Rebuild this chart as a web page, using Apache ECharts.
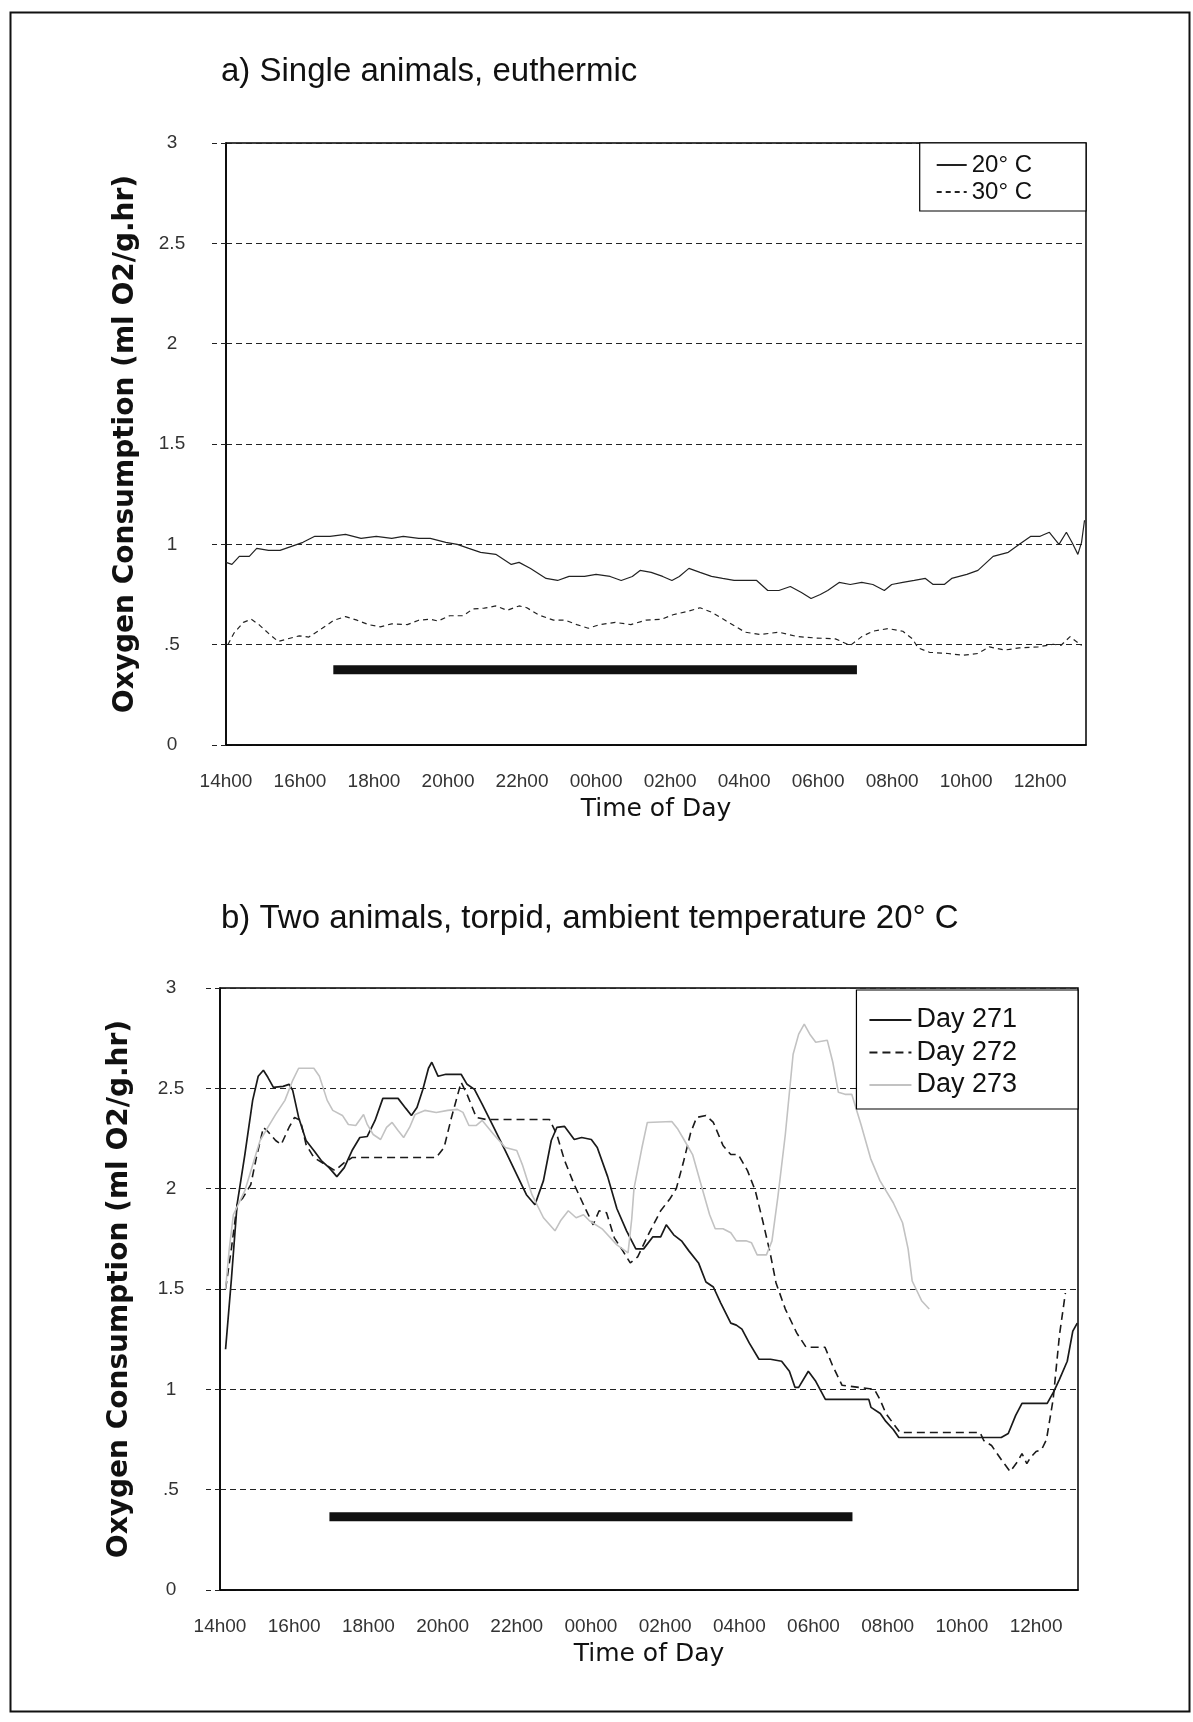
<!DOCTYPE html>
<html><head><meta charset="utf-8">
<script src="https://cdn.jsdelivr.net/npm/echarts@6/dist/echarts.min.js"></script>
<style>html,body{margin:0;padding:0;background:#fff}#c{width:1193px;height:1722px}</style>
</head><body><div id="c"></div>
<script>
// ---- tick labels ----
const xTickLabels = ['14h00','16h00','18h00','20h00','22h00','00h00','02h00','04h00','06h00','08h00','10h00','12h00'];
const yTickLabels = ['0','.5','1','1.5','2','2.5','3'];

// ---- panel a: hours after 14h00, oxygen consumption ----
const a20Time = [0,0.16,0.36,0.63,0.83,1.15,1.46,1.77,2.08,2.4,2.81,3.23,3.65,4.06,4.48,4.79,5.21,5.52,5.94,6.25,6.56,6.88,7.29,7.71,7.92,8.23,8.65,8.96,9.27,9.69,10.0,10.38,10.68,10.98,11.19,11.49,11.8,12.05,12.25,12.51,12.81,13.12,13.42,13.73,14.03,14.34,14.64,14.94,15.25,15.55,15.81,16.06,16.26,16.57,16.87,17.18,17.48,17.79,17.99,18.29,18.6,18.9,19.11,19.41,19.61,20.02,20.32,20.73,21.14,21.44,21.75,22.0,22.25,22.51,22.71,22.86,23.02,23.12,23.2];
const a20Val = [.91,.90,.94,.94,.98,.97,.97,.99,1.01,1.04,1.04,1.05,1.03,1.04,1.03,1.04,1.03,1.03,1.01,1.0,.98,.96,.95,.90,.91,.88,.83,.82,.84,.84,.85,.84,.82,.84,.87,.86,.84,.82,.84,.88,.86,.84,.83,.82,.82,.82,.77,.77,.79,.76,.73,.75,.77,.81,.80,.81,.80,.77,.80,.81,.82,.83,.80,.80,.83,.85,.87,.94,.96,1.0,1.04,1.04,1.06,1.0,1.06,1.01,.95,1.01,1.12];
const a30Time = [0.05,0.21,0.47,0.68,0.89,1.15,1.41,1.67,1.98,2.24,2.6,2.92,3.23,3.54,3.85,4.17,4.48,4.9,5.21,5.52,5.73,6.04,6.41,6.67,6.98,7.29,7.6,7.92,8.13,8.44,8.85,9.17,9.48,9.79,10.1,10.52,10.94,11.35,11.77,12.08,12.5,12.81,13.12,13.52,14.03,14.44,14.94,15.45,15.96,16.47,16.87,17.18,17.48,17.89,18.29,18.55,18.7,19.01,19.51,19.92,20.32,20.63,21.04,21.44,21.95,22.36,22.56,22.81,22.96,23.12];
const a30Val = [.50,.556,.611,.627,.60,.556,.516,.529,.544,.538,.582,.622,.64,.622,.60,.589,.604,.60,.622,.627,.618,.644,.644,.678,.682,.693,.671,.693,.684,.649,.622,.622,.60,.582,.60,.611,.60,.622,.627,.649,.667,.684,.662,.618,.562,.551,.562,.54,.533,.529,.496,.54,.567,.58,.567,.529,.484,.462,.456,.447,.456,.489,.473,.484,.489,.502,.496,.54,.518,.496];
const aNightTime = [2.9, 17.05];
const aNightVal = [0.375, 0.375];

// ---- panel b ----
const b271Time = [0.15,0.31,0.46,0.67,0.88,1.03,1.17,1.29,1.44,1.70,1.86,1.96,2.12,2.32,2.53,2.73,2.94,3.15,3.35,3.56,3.77,3.97,4.18,4.39,4.59,4.80,5.01,5.16,5.31,5.47,5.62,5.71,5.88,6.09,6.50,6.66,6.86,7.07,7.38,7.69,8.0,8.26,8.49,8.72,8.93,9.08,9.29,9.55,9.75,10.01,10.17,10.45,10.7,10.96,11.21,11.42,11.67,11.88,12.03,12.23,12.44,12.64,12.9,13.1,13.3,13.5,13.77,13.92,14.07,14.27,14.53,14.84,15.14,15.35,15.5,15.6,15.86,16.06,16.32,17.39,17.49,17.55,17.8,17.95,18.15,18.3,21.06,21.25,21.45,21.62,22.3,22.48,22.63,22.84,22.99,23.11];
const b271Val = [1.2,1.555,1.92,2.17,2.44,2.56,2.59,2.555,2.505,2.51,2.52,2.49,2.355,2.24,2.19,2.14,2.105,2.06,2.105,2.19,2.255,2.26,2.34,2.45,2.45,2.45,2.40,2.365,2.405,2.495,2.60,2.63,2.56,2.57,2.57,2.52,2.495,2.42,2.305,2.19,2.07,1.97,1.92,2.04,2.24,2.305,2.31,2.245,2.255,2.245,2.205,2.06,1.90,1.79,1.70,1.70,1.76,1.76,1.82,1.77,1.74,1.69,1.63,1.535,1.51,1.43,1.33,1.32,1.30,1.23,1.15,1.15,1.14,1.09,1.01,1.01,1.09,1.04,0.95,0.95,0.95,0.91,0.88,0.84,0.80,0.76,0.76,0.78,0.87,0.93,0.93,0.99,1.05,1.14,1.29,1.33];
const b272Time = [0.15,0.31,0.46,0.62,0.83,0.98,1.17,1.29,1.5,1.65,1.86,2.01,2.17,2.32,2.53,2.84,3.1,3.35,3.56,5.83,6.04,6.24,6.5,6.66,6.91,7.17,8.88,9.08,9.29,9.55,9.8,10.06,10.22,10.42,10.63,10.86,11.06,11.26,11.57,11.88,12.13,12.3,12.49,12.69,12.85,13.1,13.3,13.56,13.77,13.97,14.22,14.43,14.63,14.83,14.99,15.24,15.55,15.8,16.31,16.51,16.77,17.64,17.79,17.95,18.15,18.33,20.49,20.59,20.8,21.06,21.3,21.5,21.62,21.75,21.85,22.0,22.15,22.28,22.46,22.63,22.79];
const b272Val = [1.50,1.705,1.92,1.955,2.02,2.155,2.305,2.285,2.24,2.22,2.305,2.355,2.34,2.22,2.155,2.12,2.09,2.13,2.155,2.155,2.205,2.355,2.53,2.47,2.355,2.345,2.345,2.27,2.14,2.02,1.92,1.82,1.89,1.88,1.755,1.69,1.63,1.66,1.78,1.89,1.95,2.0,2.13,2.28,2.355,2.365,2.33,2.215,2.17,2.17,2.09,1.99,1.84,1.68,1.53,1.40,1.28,1.21,1.21,1.12,1.02,1.0,0.95,0.88,0.83,0.785,0.785,0.745,0.72,0.65,0.59,0.64,0.68,0.63,0.66,0.69,0.70,0.75,0.95,1.27,1.48];
const b273Time = [0.15,0.25,0.36,0.67,1.08,1.29,1.5,1.75,1.96,2.12,2.53,2.68,2.89,3.04,3.3,3.46,3.66,3.87,3.97,4.13,4.33,4.49,4.64,4.8,4.95,5.11,5.26,5.52,5.83,6.14,6.4,6.55,6.71,6.91,7.07,7.38,7.69,8.0,8.15,8.41,8.72,9.03,9.18,9.39,9.6,9.8,9.96,10.3,10.7,11.0,11.1,11.16,11.37,11.52,12.18,12.33,12.49,12.74,13.0,13.2,13.35,13.56,13.77,13.92,14.18,14.33,14.48,14.73,14.88,15.04,15.24,15.45,15.6,15.75,15.9,16.06,16.37,16.52,16.67,16.85,17.03,17.28,17.54,17.79,18.15,18.4,18.55,18.66,18.92,19.12];
const b273Val = [1.50,1.70,1.87,1.99,2.24,2.305,2.37,2.44,2.54,2.60,2.60,2.56,2.44,2.39,2.365,2.32,2.315,2.37,2.32,2.27,2.245,2.305,2.33,2.29,2.255,2.305,2.37,2.39,2.38,2.39,2.395,2.38,2.315,2.315,2.34,2.27,2.205,2.19,2.12,1.97,1.855,1.79,1.84,1.89,1.855,1.87,1.84,1.80,1.72,1.68,1.85,2.0,2.2,2.33,2.335,2.3,2.25,2.17,2.0,1.87,1.80,1.80,1.78,1.74,1.74,1.73,1.67,1.67,1.74,1.96,2.27,2.67,2.77,2.82,2.77,2.73,2.74,2.63,2.48,2.47,2.47,2.32,2.15,2.04,1.93,1.83,1.70,1.54,1.44,1.40];
const bNightTime = [2.95, 17.05];
const bNightVal = [0.365, 0.365];

const zip = (t, v) => t.map((x, i) => [x, v[i]]);

const chart = echarts.init(document.getElementById('c'), null, {renderer: 'canvas'});

const tickFont = "'Liberation Sans',sans-serif";
function makeX(gi, max) {
  return {
    type: 'value', gridIndex: gi, min: 0, max: max, interval: 2,
    axisLine: {show: true, lineStyle: {color: '#000', width: 1.5}},
    axisTick: {show: false}, splitLine: {show: false},
    axisLabel: {
      margin: 27, showMaxLabel: false, color: '#333', fontSize: 19, fontFamily: tickFont,
      formatter: v => { const i = Math.round(v / 2); return (Math.abs(v - 2 * i) < 1e-6 && i < xTickLabels.length) ? xTickLabels[i] : ''; }
    },
    name: 'Time of Day', nameLocation: 'middle', nameGap: 52,
    nameTextStyle: {fontFamily: 'DejaVu Sans', fontSize: 25, color: '#111'}
  };
}
function makeY(gi, margin) {
  return {
    type: 'value', gridIndex: gi, min: 0, max: 3, interval: 0.5,
    axisLine: {show: true, lineStyle: {color: '#000', width: 1.5}},
    axisTick: {show: true, length: 17, lineStyle: {color: '#222', type: [5, 4]}},
    splitLine: {show: true, lineStyle: {color: '#222', width: 1, type: [6, 4]}},
    axisLabel: {
      margin: margin, align: 'center', color: '#333', fontSize: 19, fontFamily: 'Liberation Sans',
      formatter: v => yTickLabels[Math.round(v / 0.5)]
    },
    name: 'Oxygen Consumption (ml O2/g.hr)', nameLocation: 'middle', nameGap: 86, nameRotate: 90,
    nameTextStyle: {fontFamily: 'DejaVu Sans', fontSize: 28, fontWeight: 'bold', color: '#111'}
  };
}
const lineSeries = (name, gi, data, style) => ({
  name: name, type: 'line', xAxisIndex: gi, yAxisIndex: gi, data: data,
  symbol: 'none', showSymbol: false, silent: true, lineStyle: style,
  itemStyle: {color: style.color}
});

const option = {
  animation: false,
  backgroundColor: '#fff',
  title: [
    {text: 'a) Single animals, euthermic', left: 216, top: 50,
     textStyle: {fontFamily: 'Liberation Sans', fontSize: 33, fontWeight: 'normal', color: '#111'}},
    {text: 'b) Two animals, torpid, ambient temperature 20° C', left: 216, top: 897,
     textStyle: {fontFamily: 'Liberation Sans', fontSize: 33, fontWeight: 'normal', color: '#111'}}
  ],
  grid: [
    {left: 226, top: 143, width: 860, height: 602, show: true, borderColor: '#000', borderWidth: 1.5},
    {left: 220, top: 988, width: 858, height: 602, show: true, borderColor: '#000', borderWidth: 1.5}
  ],
  xAxis: [makeX(0, 23.24), makeX(1, 23.13)],
  yAxis: [makeY(0, 54), makeY(1, 49)],
  legend: [
    {data: ['20° C', '30° C'], orient: 'vertical', right: 107, top: 143,
     padding: [10, 54, 7, 16], itemGap: 3, itemWidth: 30, itemHeight: 12,
     itemStyle: {opacity: 0},
     backgroundColor: '#fff', borderColor: '#000', borderWidth: 1.2, borderRadius: 0,
     textStyle: {fontFamily: 'Liberation Sans', fontSize: 24, lineHeight: 24, color: '#111'}},
    {data: ['Day 271', 'Day 272', 'Day 273'], orient: 'vertical', right: 115, top: 990,
     padding: [16, 61, 10, 12], itemGap: 4.5, itemWidth: 42, itemHeight: 12,
     itemStyle: {opacity: 0},
     backgroundColor: '#fff', borderColor: '#000', borderWidth: 1.2, borderRadius: 0,
     textStyle: {fontFamily: 'Liberation Sans', fontSize: 27, lineHeight: 28, color: '#111'}}
  ],
  graphic: [
    {type: 'rect', left: 8, top: 10, z: -1, silent: true,
     shape: {width: 1179, height: 1699}, style: {fill: 'none', stroke: '#111', lineWidth: 2}}
  ],
  series: [
    lineSeries('20° C', 0, zip(a20Time, a20Val), {color: '#222', width: 1.2}),
    lineSeries('30° C', 0, zip(a30Time, a30Val), {color: '#222', width: 1.2, type: [5, 4]}),
    lineSeries('night a', 0, zip(aNightTime, aNightVal), {color: '#111', width: 9, cap: 'butt'}),
    lineSeries('Day 271', 1, zip(b271Time, b271Val), {color: '#1a1a1a', width: 1.7}),
    lineSeries('Day 272', 1, zip(b272Time, b272Val), {color: '#1a1a1a', width: 1.6, type: [8, 5]}),
    lineSeries('Day 273', 1, zip(b273Time, b273Val), {color: '#c2c2c2', width: 1.6}),
    lineSeries('night b', 1, zip(bNightTime, bNightVal), {color: '#111', width: 9, cap: 'butt'})
  ]
};
chart.setOption(option);
</script>
</body></html>
